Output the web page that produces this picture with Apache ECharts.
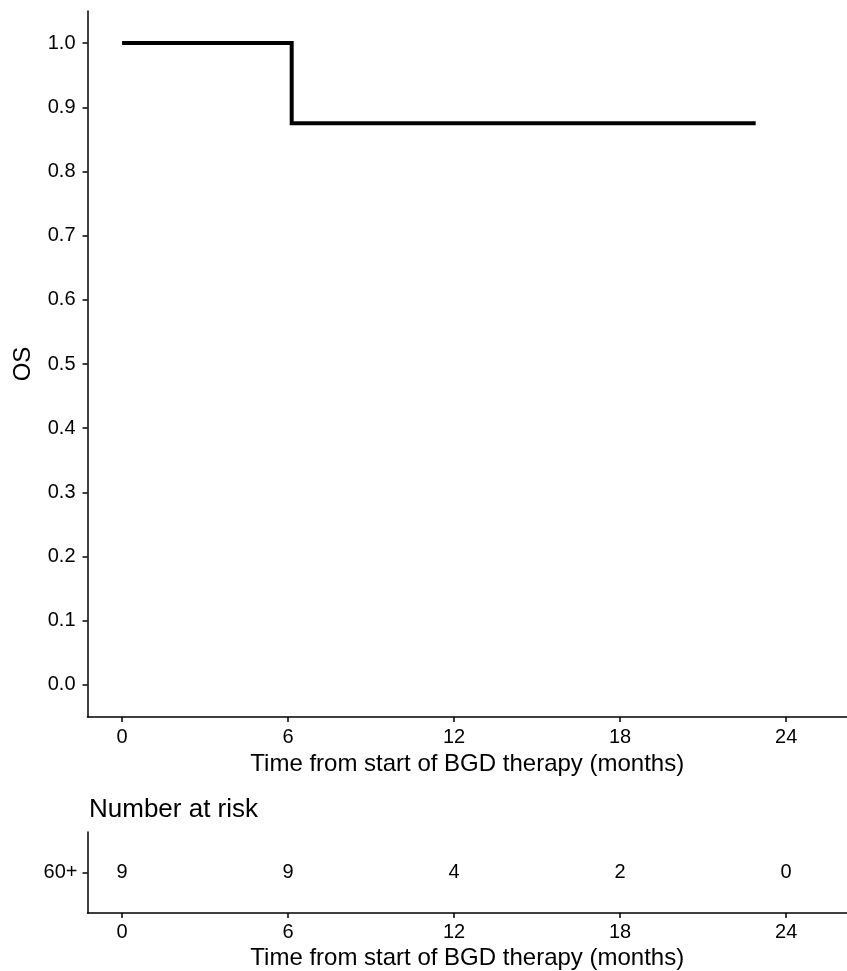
<!DOCTYPE html>
<html>
<head>
<meta charset="utf-8">
<script src="https://cdn.jsdelivr.net/npm/echarts@6/dist/echarts.min.js"></script>
<style>
html,body{margin:0;padding:0;background:#fff;}
#chart{width:847px;height:971px;}
</style>
</head>
<body>
<div id="chart"></div>
<script>
// Kaplan-Meier step data
const times = [0, 6.13, 22.9];
const survival = [1.0, 0.875, 0.875];
// axis ticks
const xTicks = [0, 6, 12, 18, 24];
const yTicks = [0.0, 0.1, 0.2, 0.3, 0.4, 0.5, 0.6, 0.7, 0.8, 0.9, 1.0];
// risk table
const strata = ['60+'];
const riskTimes = [0, 6, 12, 18, 24];
const riskCounts = [9, 9, 4, 2, 0];

const FONT = '"Liberation Sans", Arial, sans-serif';
const axisLineStyle = {color: '#000', width: 1.5};
const xName = 'Time from start of BGD therapy (months)';
const TICKFS = 20;

const chart = echarts.init(document.getElementById('chart'), null, {renderer: 'canvas'});
chart.setOption({
  backgroundColor: '#fff',
  animation: false,
  textStyle: {fontFamily: FONT},
  title: {
    text: 'Number at risk', left: 84, top: 792,
    textStyle: {fontFamily: FONT, fontSize: 26, fontWeight: 'normal', color: '#000'}
  },
  grid: [
    {left: 87.5, right: 0, top: 11, height: 706, containLabel: false},
    {left: 87.5, right: 0, top: 832, height: 82, containLabel: false}
  ],
  xAxis: [
    {
      type: 'value', gridIndex: 0, min: -1.25, max: 26.2,
      splitLine: {show: false},
      axisLine: {show: true, onZero: false, lineStyle: axisLineStyle},
      axisTick: {show: true, length: 5, lineStyle: axisLineStyle, customValues: xTicks},
      axisLabel: {customValues: xTicks, margin: 10, fontSize: TICKFS, color: '#000', fontFamily: FONT},
      name: xName, nameLocation: 'middle', nameGap: 34,
      nameTextStyle: {fontSize: 24, color: '#000', fontFamily: FONT}
    },
    {
      type: 'value', gridIndex: 1, min: -1.25, max: 26.2,
      splitLine: {show: false},
      axisLine: {show: true, onZero: false, lineStyle: axisLineStyle},
      axisTick: {show: true, length: 5, lineStyle: axisLineStyle, customValues: xTicks},
      axisLabel: {customValues: xTicks, margin: 9, fontSize: TICKFS, color: '#000', fontFamily: FONT},
      name: xName, nameLocation: 'middle', nameGap: 33,
      nameTextStyle: {fontSize: 24, color: '#000', fontFamily: FONT}
    }
  ],
  yAxis: [
    {
      type: 'value', gridIndex: 0, min: -0.05, max: 1.05,
      splitLine: {show: false},
      axisLine: {show: true, onZero: false, lineStyle: axisLineStyle},
      axisTick: {show: true, length: 5, lineStyle: axisLineStyle, customValues: yTicks},
      axisLabel: {customValues: yTicks, margin: 12, fontSize: TICKFS, color: '#000', fontFamily: FONT,
        formatter: v => v.toFixed(1)},
      name: 'OS', nameLocation: 'middle', nameGap: 52, nameRotate: 90,
      nameTextStyle: {fontSize: 24, color: '#000', fontFamily: FONT}
    },
    {
      type: 'category', gridIndex: 1, data: strata,
      axisLine: {show: true, onZero: false, lineStyle: axisLineStyle},
      axisTick: {show: true, length: 5, alignWithLabel: true, lineStyle: axisLineStyle},
      axisLabel: {margin: 10, fontSize: TICKFS, color: '#000', fontFamily: FONT}
    }
  ],
  series: [
    {
      type: 'line', xAxisIndex: 0, yAxisIndex: 0, step: 'end',
      symbol: 'none', data: times.map((t, i) => [t, survival[i]]),
      lineStyle: {color: '#000', width: 4, join: 'miter', cap: 'butt'}
    },
    {
      type: 'scatter', xAxisIndex: 1, yAxisIndex: 1,
      symbol: 'circle', symbolSize: 1,
      itemStyle: {color: 'rgba(0,0,0,0)', opacity: 1},
      data: riskTimes.map((t, i) => [t, strata[0], riskCounts[i]]),
      label: {show: true, position: 'inside', fontSize: TICKFS, color: '#000', fontFamily: FONT,
        formatter: p => String(p.value[2])}
    }
  ]
});
</script>
</body>
</html>
